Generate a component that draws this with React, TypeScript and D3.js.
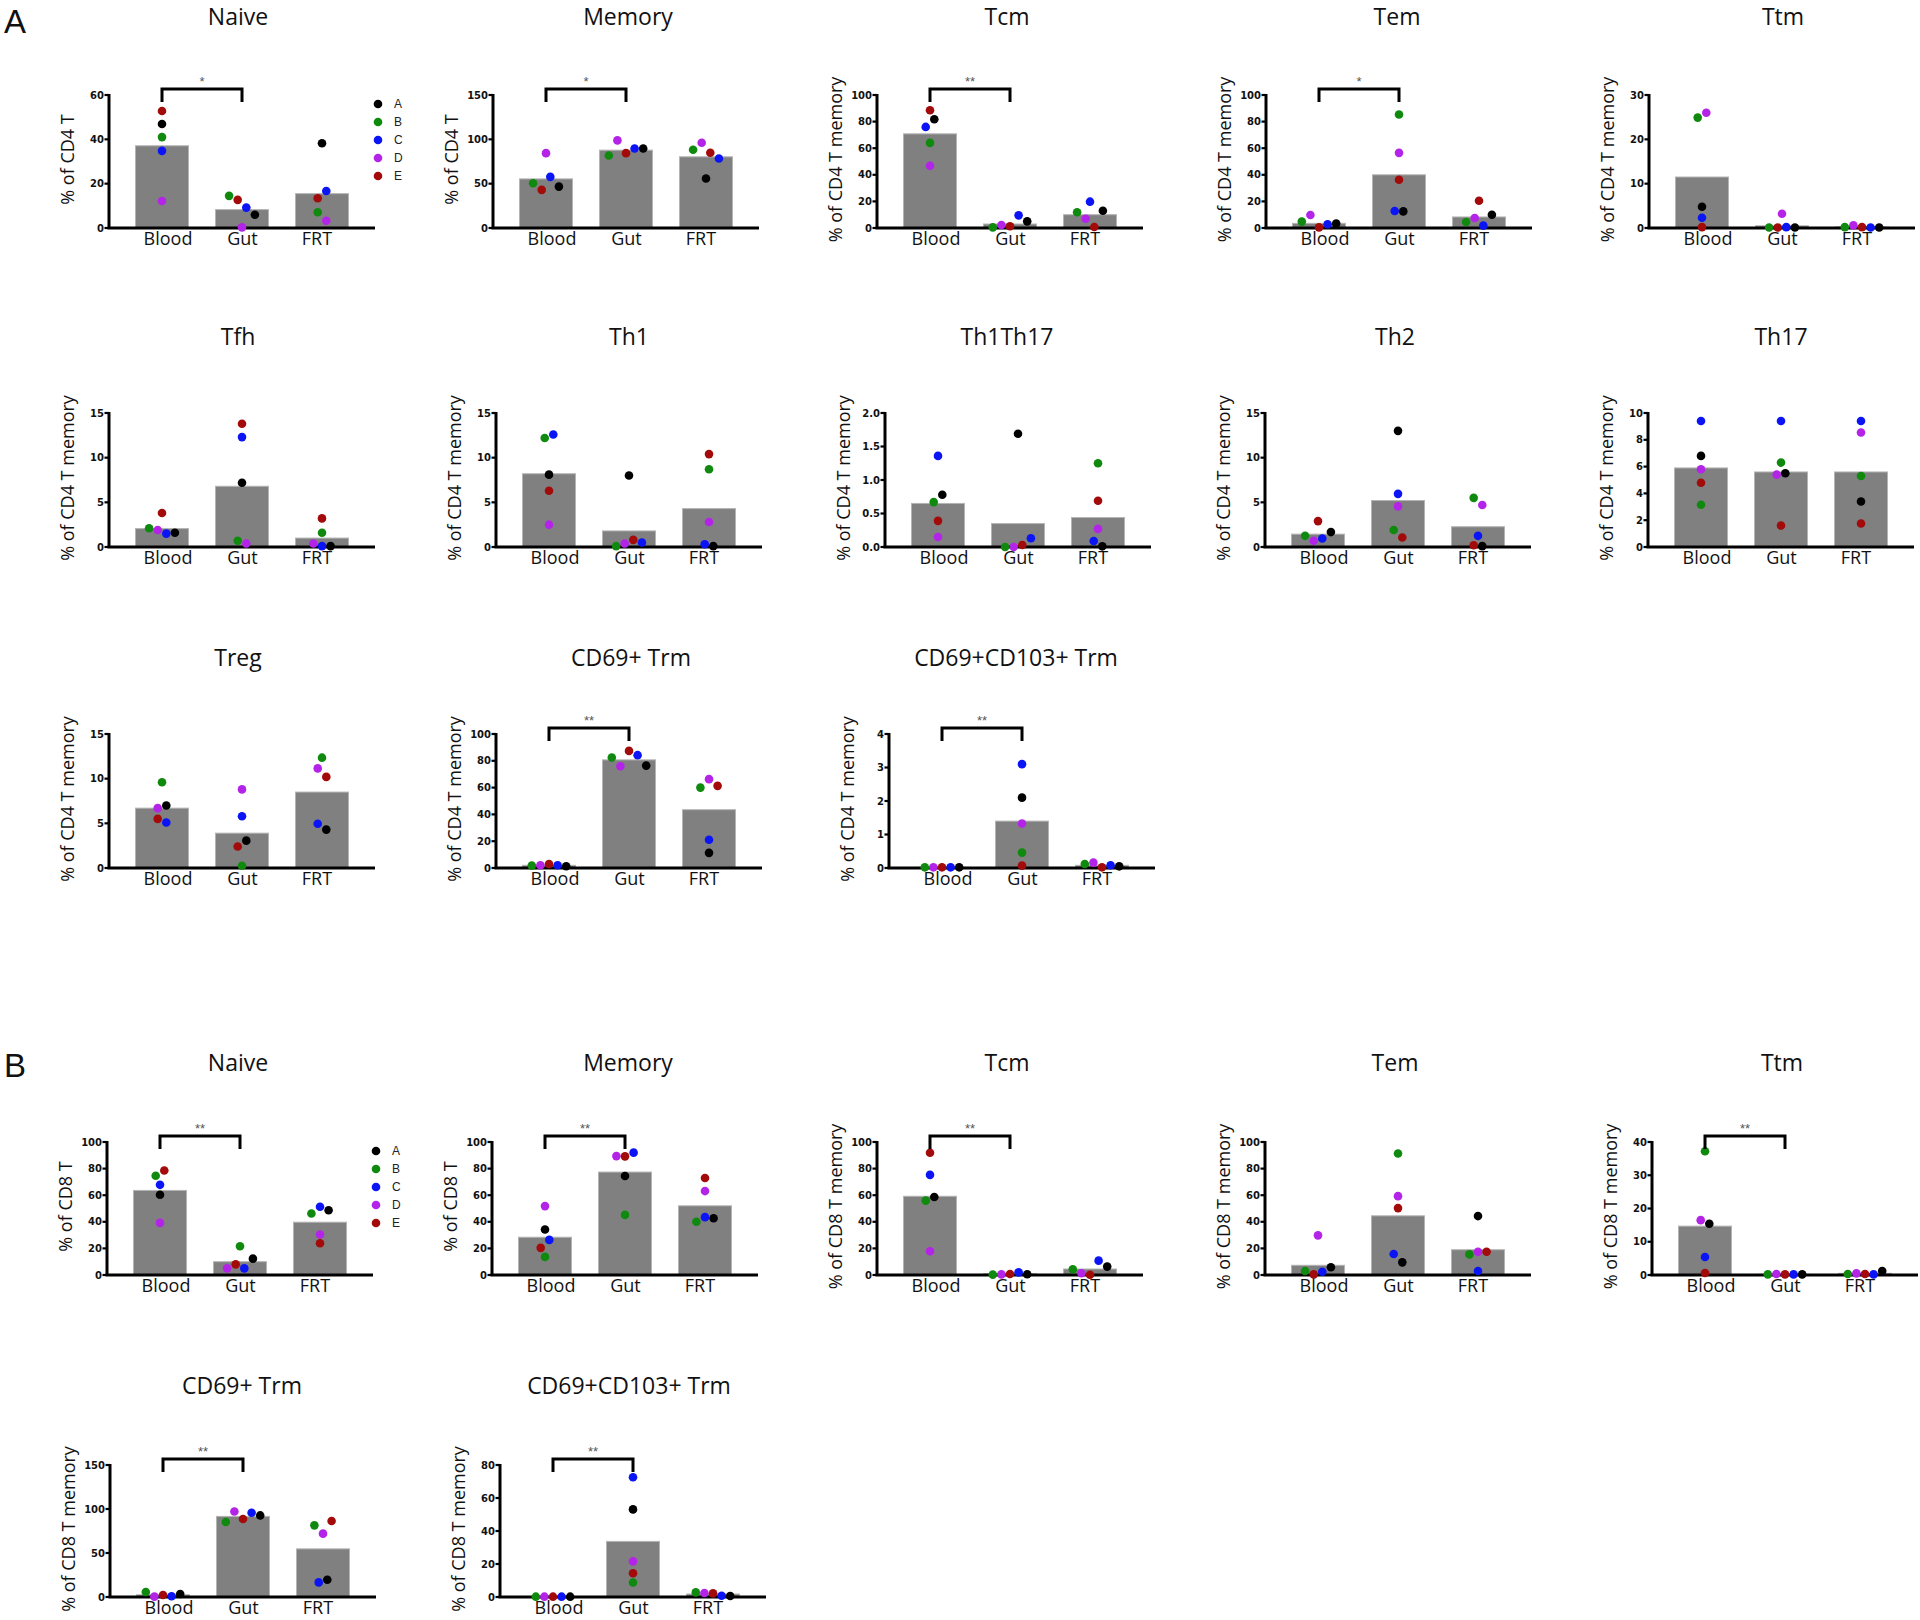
import React from "react";
import * as d3 from "d3";

// ---------- data ----------
const subjects = ["A", "B", "C", "D", "E"];
const subjectColors = ["#000000", "#0f8a0f", "#0a14f5", "#b424e8", "#a30a0a"];
const tissues = ["Blood", "Gut", "FRT"];

// values: [Blood, Gut, FRT] x [A, B, C, D, E]
const cd4Naive = [[46.9, 41.0, 34.8, 12.2, 52.8], [6.0, 14.5, 9.2, 0.3, 12.7], [38.2, 7.1, 16.7, 3.3, 13.4]];
const cd4NaiveBars = [37.1, 8.3, 15.5];
const cd4Memory = [[46.7, 50.5, 57.7, 84.4, 43.0], [89.7, 81.8, 89.7, 98.8, 84.4], [55.8, 88.2, 78.4, 96.1, 84.8]];
const cd4MemoryBars = [55.4, 87.8, 80.3];
const cd4Tcm = [[81.8, 64, 76, 46.8, 88.5], [5, 0.5, 9.5, 2.3, 1.3], [13, 11.8, 19.8, 7, 0.8]];
const cd4TcmBars = [70.8, 3, 10];
const cd4Tem = [[3.3, 4.8, 2.8, 9.8, 0.5], [12.5, 85.3, 12.8, 56.5, 36.3], [10, 4.5, 1.8, 7.5, 20.5]];
const cd4TemBars = [3.5, 40, 8.3];
const cd4Ttm = [[4.8, 24.9, 2.3, 26, 0.2], [0.1, 0.1, 0.2, 3.2, 0.1], [0.1, 0.2, 0.1, 0.6, 0.2]];
const cd4TtmBars = [11.5, 0.5, 0.25];
const cd4Tfh = [[1.6, 2.1, 1.5, 1.9, 3.8], [7.2, 0.7, 12.3, 0.4, 13.8], [0.1, 1.6, 0.1, 0.4, 3.2]];
const cd4TfhBars = [2.06, 6.8, 1.0];
const cd4Th1 = [[8.1, 12.2, 12.6, 2.5, 6.3], [8.0, 0.1, 0.5, 0.4, 0.8], [0.1, 8.7, 0.3, 2.8, 10.4]];
const cd4Th1Bars = [8.2, 1.8, 4.3];
const cd4Th1Th17 = [[0.78, 0.67, 1.36, 0.15, 0.39], [1.69, 0.0, 0.13, 0.0, 0.03], [0.01, 1.25, 0.09, 0.27, 0.69]];
const cd4Th1Th17Bars = [0.65, 0.35, 0.44];
const cd4Th2 = [[1.67, 1.25, 0.95, 0.7, 2.9], [13.0, 1.9, 5.95, 4.55, 1.06], [0.1, 5.5, 1.25, 4.7, 0.2]];
const cd4Th2Bars = [1.44, 5.2, 2.27];
const cd4Th17 = [[6.8, 3.15, 9.4, 5.8, 4.8], [5.5, 6.3, 9.4, 5.4, 1.6], [3.4, 5.3, 9.4, 8.55, 1.75]];
const cd4Th17Bars = [5.9, 5.6, 5.6];
const cd4Treg = [[7.0, 9.6, 5.1, 6.7, 5.5], [3.06, 0.26, 5.8, 8.8, 2.4], [4.3, 12.35, 4.96, 11.15, 10.2]];
const cd4TregBars = [6.7, 3.9, 8.5];
const cd4Cd69 = [[1.3, 1.8, 2, 2, 3], [76.4, 82.4, 84.2, 75.9, 87.4], [11.3, 60, 21.1, 66.3, 61.3]];
const cd4Cd69Bars = [2, 80.7, 43.5];
const cd4Cd69Cd103 = [[0.02, 0.02, 0.02, 0.02, 0.02], [2.1, 0.46, 3.1, 1.33, 0.07], [0.05, 0.12, 0.08, 0.16, 0.02]];
const cd4Cd69Cd103Bars = [0.02, 1.4, 0.08];

const cd8Naive = [[60.3, 74.6, 67.8, 39.2, 78.6], [12.3, 21.6, 5.0, 5.0, 8.0], [48.7, 46.2, 51.3, 30.4, 23.9]];
const cd8NaiveBars = [63.6, 10, 39.7];
const cd8Memory = [[34.2, 13.6, 26.4, 51.8, 20.4], [74.4, 45.2, 92, 89.4, 89.2], [42.7, 40, 43.5, 63.1, 72.9]];
const cd8MemoryBars = [28.4, 77.4, 52];
const cd8Tcm = [[58.7, 55.9, 75.3, 17.9, 91.9], [0.6, 0.3, 2.0, 0.5, 0.8], [6.3, 4.3, 10.8, 1.3, 0.2]];
const cd8TcmBars = [59.2, 0.9, 4.5];
const cd8Tem = [[5.8, 3, 2.5, 29.8, 0.5], [9.5, 91.3, 15.8, 59.3, 50.3], [44.3, 15.5, 3, 17.5, 17.5]];
const cd8TemBars = [7.3, 44.5, 19];
const cd8Ttm = [[15.4, 37.2, 5.4, 16.5, 0.6], [0.2, 0.2, 0.2, 0.3, 0.2], [1.2, 0.3, 0.2, 0.5, 0.3]];
const cd8TtmBars = [14.7, 0.2, 0.5];
const cd8Cd69 = [[3.4, 5.7, 0.8, 0.4, 2.3], [92.7, 85.2, 95.7, 97.2, 88.6], [19.6, 81.4, 16.6, 72, 86.3]];
const cd8Cd69Bars = [2.5, 91.6, 54.7];
const cd8Cd69Cd103 = [[0.2, 0.2, 0.2, 0.2, 0.2], [53.1, 8.8, 72.6, 21.6, 14.4], [0.6, 2.8, 0.8, 2.4, 2.2]];
const cd8Cd69Cd103Bars = [0.2, 33.7, 1.8];

// tick values
const ticks60 = [0, 20, 40, 60];
const ticks150 = [0, 50, 100, 150];
const ticks100 = [0, 20, 40, 60, 80, 100];
const ticks30 = [0, 10, 20, 30];
const ticks15 = [0, 5, 10, 15];
const ticks2 = [0, 0.5, 1.0, 1.5, 2.0];
const ticks10 = [0, 2, 4, 6, 8, 10];
const ticks4 = [0, 1, 2, 3, 4];
const ticks40 = [0, 10, 20, 30, 40];
const ticks80 = [0, 20, 40, 60, 80];

const titles = {
  naive: "Naive", memory: "Memory", tcm: "Tcm", tem: "Tem", ttm: "Ttm", tfh: "Tfh", th1: "Th1",
  th1th17: "Th1Th17", th2: "Th2", th17: "Th17", treg: "Treg", cd69: "CD69+ Trm", cd69cd103: "CD69+CD103+ Trm",
};
const labelCd4 = "% of CD4 T";
const labelCd4Mem = "% of CD4 T memory";
const labelCd8 = "% of CD8 T";
const labelCd8Mem = "% of CD8 T memory";

type PanelData = {
  title: string; label: string; values: number[][]; bars: number[]; ticks: number[];
  sig?: string; legend?: boolean; fmt?: string;
};

const panelsData: PanelData[] = [
  { title: titles.naive, label: labelCd4, values: cd4Naive, bars: cd4NaiveBars, ticks: ticks60, sig: "*", legend: true },
  { title: titles.memory, label: labelCd4, values: cd4Memory, bars: cd4MemoryBars, ticks: ticks150, sig: "*" },
  { title: titles.tcm, label: labelCd4Mem, values: cd4Tcm, bars: cd4TcmBars, ticks: ticks100, sig: "**" },
  { title: titles.tem, label: labelCd4Mem, values: cd4Tem, bars: cd4TemBars, ticks: ticks100, sig: "*" },
  { title: titles.ttm, label: labelCd4Mem, values: cd4Ttm, bars: cd4TtmBars, ticks: ticks30 },
  { title: titles.tfh, label: labelCd4Mem, values: cd4Tfh, bars: cd4TfhBars, ticks: ticks15 },
  { title: titles.th1, label: labelCd4Mem, values: cd4Th1, bars: cd4Th1Bars, ticks: ticks15 },
  { title: titles.th1th17, label: labelCd4Mem, values: cd4Th1Th17, bars: cd4Th1Th17Bars, ticks: ticks2, fmt: ".1f" },
  { title: titles.th2, label: labelCd4Mem, values: cd4Th2, bars: cd4Th2Bars, ticks: ticks15 },
  { title: titles.th17, label: labelCd4Mem, values: cd4Th17, bars: cd4Th17Bars, ticks: ticks10 },
  { title: titles.treg, label: labelCd4Mem, values: cd4Treg, bars: cd4TregBars, ticks: ticks15 },
  { title: titles.cd69, label: labelCd4Mem, values: cd4Cd69, bars: cd4Cd69Bars, ticks: ticks100, sig: "**" },
  { title: titles.cd69cd103, label: labelCd4Mem, values: cd4Cd69Cd103, bars: cd4Cd69Cd103Bars, ticks: ticks4, sig: "**" },
  { title: titles.naive, label: labelCd8, values: cd8Naive, bars: cd8NaiveBars, ticks: ticks100, sig: "**", legend: true },
  { title: titles.memory, label: labelCd8, values: cd8Memory, bars: cd8MemoryBars, ticks: ticks100, sig: "**" },
  { title: titles.tcm, label: labelCd8Mem, values: cd8Tcm, bars: cd8TcmBars, ticks: ticks100, sig: "**" },
  { title: titles.tem, label: labelCd8Mem, values: cd8Tem, bars: cd8TemBars, ticks: ticks100 },
  { title: titles.ttm, label: labelCd8Mem, values: cd8Ttm, bars: cd8TtmBars, ticks: ticks40, sig: "**" },
  { title: titles.cd69, label: labelCd8Mem, values: cd8Cd69, bars: cd8Cd69Bars, ticks: ticks150, sig: "**" },
  { title: titles.cd69cd103, label: labelCd8Mem, values: cd8Cd69Cd103, bars: cd8Cd69Cd103Bars, ticks: ticks80, sig: "**" },
];

// ---------- layout (pixel positions, separate from data) ----------
const rowGeom = [
  { top: 95, zero: 228, titleY: 24.5 },
  { top: 413, zero: 547, titleY: 345 },
  { top: 734, zero: 868, titleY: 666 },
  { top: 1142, zero: 1275, titleY: 1071 },
  { top: 1465, zero: 1597, titleY: 1394 },
];
const panelLayout = [
  { row: 0, x: 109, tx: 238 }, { row: 0, x: 493, tx: 628 }, { row: 0, x: 877, tx: 1007 },
  { row: 0, x: 1266, tx: 1397 }, { row: 0, x: 1649, tx: 1783 },
  { row: 1, x: 109, tx: 238 }, { row: 1, x: 496, tx: 629 }, { row: 1, x: 885, tx: 1007 },
  { row: 1, x: 1265, tx: 1395 }, { row: 1, x: 1648, tx: 1781 },
  { row: 2, x: 109, tx: 238 }, { row: 2, x: 496, tx: 631 }, { row: 2, x: 889, tx: 1016 },
  { row: 3, x: 107, tx: 238 }, { row: 3, x: 492, tx: 628 }, { row: 3, x: 877, tx: 1007 },
  { row: 3, x: 1265, tx: 1395 }, { row: 3, x: 1652, tx: 1782 },
  { row: 4, x: 110, tx: 242 }, { row: 4, x: 500, tx: 629 },
];

const PLOT_W = 266;
const BAR_W = 53;
const R = 4.3;
const D = 8.6;
const TIE_ORDER = [1, 3, 4, 2, 0]; // placement order inside a cluster (B, D, E, C, A)

function swarm(vals: number[], y: (v: number) => number, cx: number) {
  const pts = vals.map((v, i) => ({ i, py: y(v), px: cx }));
  const sorted = [...pts].sort((a, b) => a.py - b.py);
  const clusters: typeof pts[] = [];
  sorted.forEach((p) => {
    const last = clusters[clusters.length - 1];
    if (last && p.py - last[last.length - 1].py < D) last.push(p);
    else clusters.push([p]);
  });
  clusters.forEach((c) => {
    const ord = [...c].sort((a, b) => TIE_ORDER.indexOf(a.i) - TIE_ORDER.indexOf(b.i));
    ord.forEach((p, k) => {
      p.px = cx + (k - (ord.length - 1) / 2) * D;
    });
  });
  return pts;
}

const FONT = "'Open Sans', 'DejaVu Sans', sans-serif";
const TICK_FONT = "'DejaVu Sans', 'Liberation Sans', sans-serif";
const LEG_FONT = "'Liberation Sans', Arial, sans-serif";

function Panel({ p, lay }: { p: PanelData; lay: typeof panelLayout[number] }) {
  const g = rowGeom[lay.row];
  const max = p.ticks[p.ticks.length - 1];
  const y = d3.scaleLinear().domain([0, max]).range([g.zero, g.top]);
  const x = d3.scalePoint<string>().domain(tissues).range([lay.x + 53, lay.x + 213]);
  const xl = d3.scalePoint<string>().domain(tissues).range([lay.x + 59, lay.x + 208]);
  const fmt = d3.format(p.fmt || "d");
  const mid = (g.top + g.zero) / 2;
  return (
    <g>
      <text x={lay.tx} y={g.titleY} textAnchor="middle" fontFamily={FONT} fontSize={23} fill="#111">
        {p.title}
      </text>
      {/* bars */}
      {tissues.map((t, ti) => (
        <rect key={t} x={(x(t) as number) - BAR_W / 2} y={y(p.bars[ti])} width={BAR_W}
          height={g.zero - y(p.bars[ti])} fill="#808080" stroke="#b4b4b4" strokeWidth={1} />
      ))}
      {/* axes */}
      <line x1={lay.x} x2={lay.x} y1={g.top - 1} y2={g.zero} stroke="#000" strokeWidth={3} />
      <line x1={lay.x - 1.5} x2={lay.x + PLOT_W} y1={g.zero} y2={g.zero} stroke="#000" strokeWidth={3.2} />
      {p.ticks.map((tv) => (
        <g key={tv}>
          <line x1={lay.x - 4.5} x2={lay.x} y1={y(tv)} y2={y(tv)} stroke="#000" strokeWidth={2.2} />
          <text x={lay.x - 5} y={y(tv)} dy="0.36em" textAnchor="end" fontFamily={TICK_FONT}
            fontWeight="bold" fontSize={10} fill="#111">{fmt(tv)}</text>
        </g>
      ))}
      <text transform={`translate(${lay.x - 35},${mid - 2}) rotate(-90)`} textAnchor="middle"
        fontFamily={FONT} fontSize={18} fill="#111">{p.label}</text>
      {tissues.map((t) => (
        <text key={t} x={xl(t)} y={g.zero + 16.5} textAnchor="middle" fontFamily={FONT} fontSize={18} fill="#111">
          {t}
        </text>
      ))}
      {/* dots */}
      {tissues.map((t, ti) =>
        swarm(p.values[ti], y, x(t) as number).map((pt) => (
          <circle key={t + pt.i} cx={pt.px} cy={pt.py} r={R} fill={subjectColors[pt.i]} />
        ))
      )}
      {/* significance */}
      {p.sig && (
        <g>
          <path d={`M${x("Blood")},${g.top + 7}V${g.top - 6}H${x("Gut")}V${g.top + 7}`}
            fill="none" stroke="#000" strokeWidth={3} />
          <text x={((x("Blood") as number) + (x("Gut") as number)) / 2} y={g.top - 9} textAnchor="middle"
            fontFamily={LEG_FONT} fontSize={13} fill="#555">{p.sig}</text>
        </g>
      )}
      {/* legend */}
      {p.legend && subjects.map((s, i) => (
        <g key={s}>
          <circle cx={lay.x + 269} cy={g.top + 9 + i * 18} r={R} fill={subjectColors[i]} />
          <text x={lay.x + 285} y={g.top + 9 + i * 18} dy="0.35em" fontFamily={LEG_FONT} fontSize={12} fill="#222">
            {s}
          </text>
        </g>
      ))}
    </g>
  );
}

export default function App() {
  return (
    <div style={{ position: "absolute", left: 0, top: 0 }}>
      <svg width={1920} height={1620} style={{ display: "block", background: "#fff" }}>
        <text x={4} y={33} fontFamily={LEG_FONT} fontSize={33} fill="#111">A</text>
        <text x={4} y={1077} fontFamily={LEG_FONT} fontSize={33} fill="#111">B</text>
        {panelsData.map((p, i) => (
          <Panel key={i} p={p} lay={panelLayout[i]} />
        ))}
      </svg>
    </div>
  );
}
